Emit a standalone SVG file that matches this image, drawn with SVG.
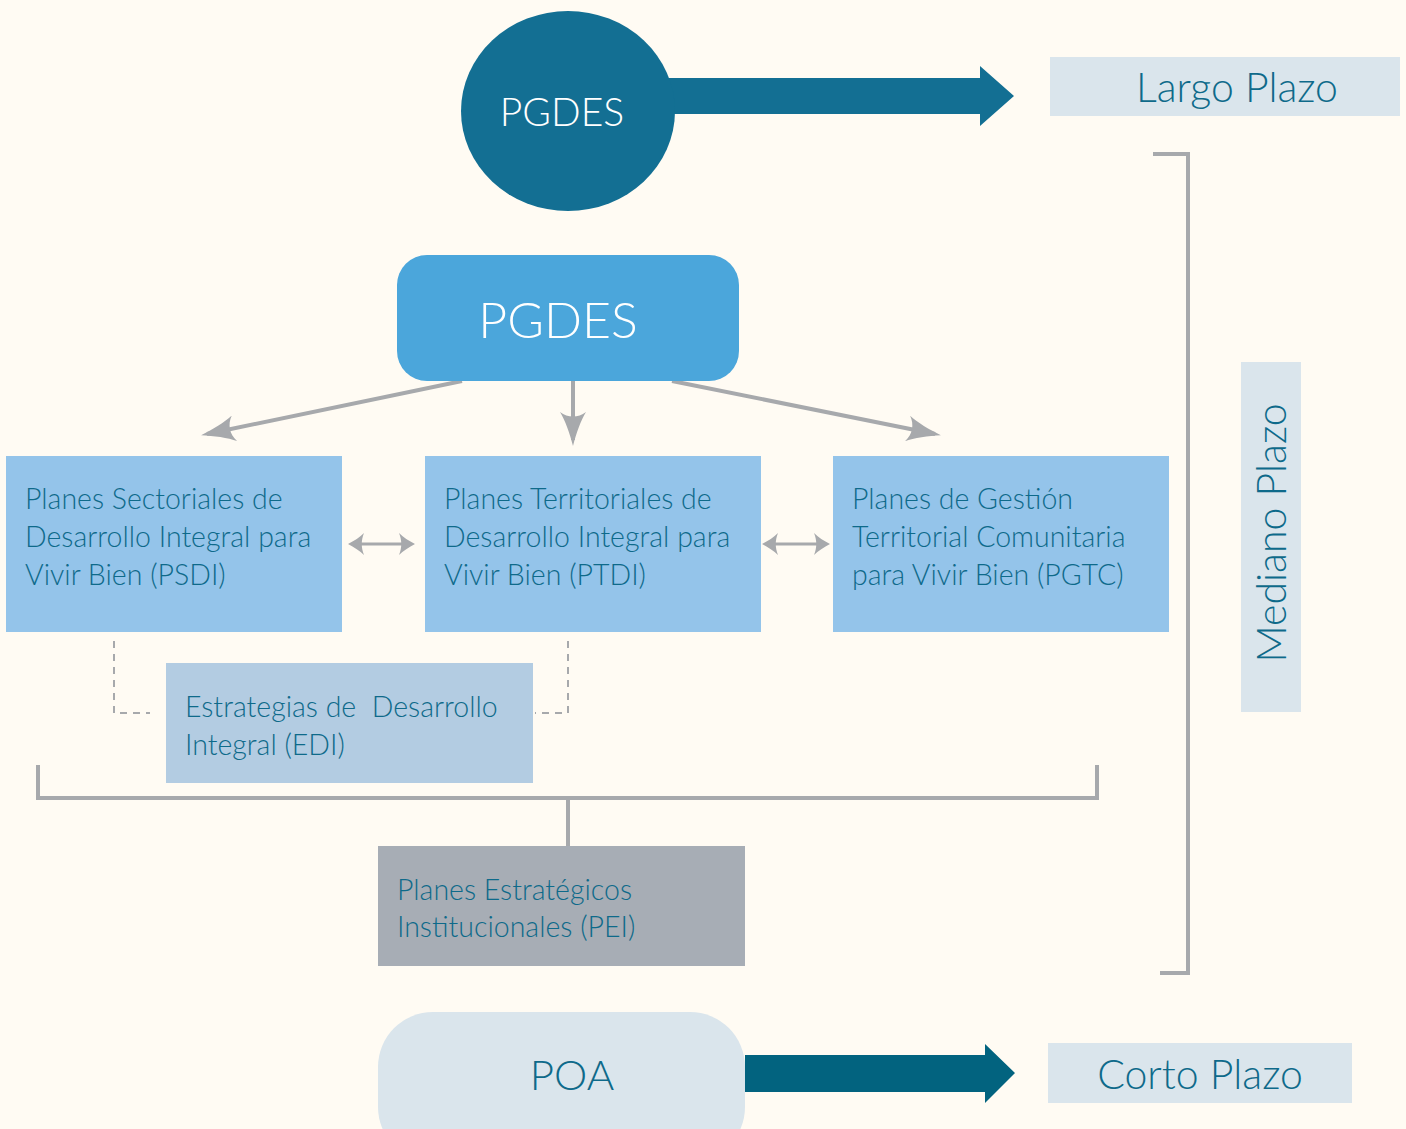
<svg xmlns="http://www.w3.org/2000/svg" width="1406" height="1129" viewBox="0 0 1406 1129">
<style>
.t{font-family:Lato,"Open Sans","Liberation Sans",sans-serif;fill:#0E6A8A;font-weight:300;}
.w{font-family:Lato,"Open Sans","Liberation Sans",sans-serif;fill:#FFFFFF;font-weight:300;}
.box{font-size:28.5px;}
.gl{stroke:#A7A9AC;fill:none;}
.dash{stroke:#A7A9AC;fill:none;stroke-width:2;stroke-dasharray:7,6;}
</style>
<defs>
<marker id="ah" viewBox="0 0 36 26" refX="30" refY="13" markerWidth="36" markerHeight="26" markerUnits="userSpaceOnUse" orient="auto">
<path d="M36,13 C24,10 10,5 2,0 C8,8 8,18 2,26 C10,21 24,16 36,13 Z" fill="#A7A9AC"/>
</marker>
<marker id="dh" viewBox="0 0 20 22" refX="16" refY="11" markerWidth="20" markerHeight="22" markerUnits="userSpaceOnUse" orient="auto-start-reverse">
<path d="M20,11 C14,8 8,4 4,0 C7,7 7,15 4,22 C8,18 14,14 20,11 Z" fill="#A7A9AC"/>
</marker>
</defs>
<rect width="1406" height="1129" fill="#FFFBF3"/>

<g id="connectors">
<path d="M640,78 H980 V66 L1014,96 L980,126 V114 H640 Z" fill="#136F93"/>
<path d="M745,1055 H985 V1044 L1015,1073 L985,1103 V1092 H745 Z" fill="#02637F"/>
<line class="gl" x1="462" y1="381" x2="207" y2="434" stroke-width="4" marker-end="url(#ah)"/>
<line class="gl" x1="573" y1="381" x2="573" y2="440" stroke-width="4" marker-end="url(#ah)"/>
<line class="gl" x1="672" y1="381" x2="935" y2="434" stroke-width="4" marker-end="url(#ah)"/>
<line class="gl" x1="352" y1="544" x2="411" y2="544" stroke-width="3" marker-start="url(#dh)" marker-end="url(#dh)"/>
<line class="gl" x1="766" y1="544" x2="826" y2="544" stroke-width="3" marker-start="url(#dh)" marker-end="url(#dh)"/>
<path class="dash" d="M114,641 V713 H150"/>
<path class="dash" d="M568,641 V713 H535"/>
<path class="gl" stroke-width="4" d="M38,765 V798 H1097 V765"/>
<line class="gl" stroke-width="4" x1="568" y1="798" x2="568" y2="846"/>
<path class="gl" stroke-width="4" d="M1153,154 H1188 V973 H1160"/>
</g>

<g id="pgdes-circle">
<ellipse cx="568" cy="111" rx="107" ry="100" fill="#136F93"/>
<text class="w" x="562" y="126" text-anchor="middle" font-size="39">PGDES</text>
</g>

<g id="largo">
<rect x="1050" y="57" width="350" height="59" fill="#DAE5EC"/>
<text class="t" x="1237" y="102" text-anchor="middle" font-size="41">Largo Plazo</text>
</g>

<g id="mediano">
<rect x="1241" y="362" width="60" height="350" fill="#DAE5EC"/>
<text class="t" x="0" y="0" text-anchor="middle" font-size="41" transform="translate(1286,533) rotate(-90)">Mediano Plazo</text>
</g>

<g id="pgdes-box">
<rect x="397" y="255" width="342" height="126" rx="30" fill="#4BA6DB"/>
<text class="w" x="558" y="338" text-anchor="middle" font-size="50">PGDES</text>
</g>

<g id="psdi">
<rect x="6" y="456" width="336" height="176" fill="#94C4EA"/>
<text class="t box" x="25" y="509">Planes Sectoriales de</text>
<text class="t box" x="25" y="547">Desarrollo Integral para</text>
<text class="t box" x="25" y="585">Vivir Bien (PSDI)</text>
</g>

<g id="ptdi">
<rect x="425" y="456" width="336" height="176" fill="#94C4EA"/>
<text class="t box" x="444" y="509">Planes Territoriales de</text>
<text class="t box" x="444" y="547">Desarrollo Integral para</text>
<text class="t box" x="444" y="585">Vivir Bien (PTDI)</text>
</g>

<g id="pgtc">
<rect x="833" y="456" width="336" height="176" fill="#94C4EA"/>
<text class="t box" x="852" y="509">Planes de Gestión</text>
<text class="t box" x="852" y="547">Territorial Comunitaria</text>
<text class="t box" x="852" y="585">para Vivir Bien (PGTC)</text>
</g>

<g id="edi">
<rect x="166" y="663" width="367" height="120" fill="#B3CCE2"/>
<text class="t box" x="185" y="717" xml:space="preserve">Estrategias de  Desarrollo</text>
<text class="t box" x="185" y="755">Integral (EDI)</text>
</g>

<g id="pei">
<rect x="378" y="846" width="367" height="120" fill="#A7ADB5"/>
<text class="t box" x="397" y="900">Planes Estratégicos</text>
<text class="t box" x="397" y="937">Institucionales (PEI)</text>
</g>

<g id="poa">
<rect x="378" y="1012" width="367" height="150" rx="55" fill="#DAE5EC"/>
<text class="t" x="572" y="1090" text-anchor="middle" font-size="42">POA</text>
</g>

<g id="corto">
<rect x="1048" y="1043" width="304" height="60" fill="#DAE5EC"/>
<text class="t" x="1200" y="1089" text-anchor="middle" font-size="41">Corto Plazo</text>
</g>
</svg>
